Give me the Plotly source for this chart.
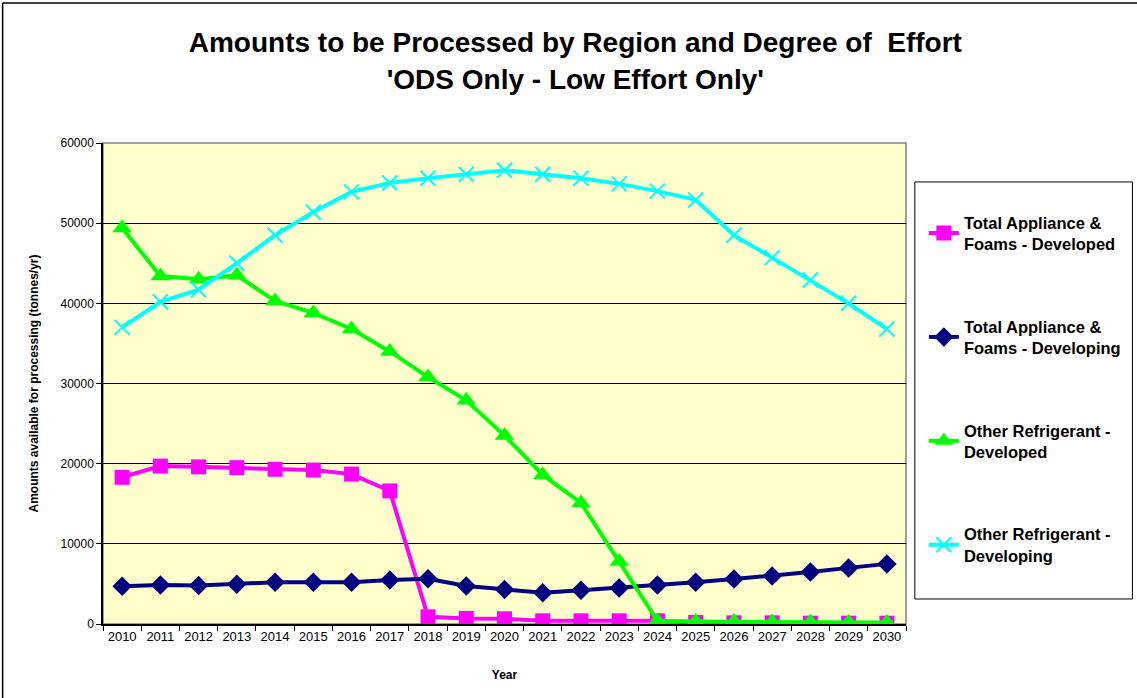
import plotly.graph_objects as go

# Years on the category axis
years = [str(y) for y in range(2010, 2031)]

# tonnes/yr
appl_developed = [18300, 19700, 19600, 19500, 19300, 19200, 18700, 16600, 900, 700, 650,
                  400, 400, 400, 400, 200, 150, 150, 100, 100, 100]
appl_developing = [4700, 4850, 4800, 4950, 5200, 5200, 5200, 5500, 5650, 4750, 4300,
                   3900, 4200, 4500, 4850, 5200, 5600, 6000, 6500, 7000, 7500]
refr_developed = [49400, 43400, 43000, 43500, 40300, 38800, 36800, 34000, 30800, 27900, 23500,
                  18600, 15100, 7800, 400, 300, 300, 250, 250, 200, 200]
refr_developing = [37000, 40200, 41700, 45000, 48500, 51400, 53900, 55000, 55600, 56100, 56600,
                   56100, 55600, 54900, 54000, 52900, 48500, 45700, 42900, 40000, 36800]

names = ["<b>Total Appliance &<br>Foams - Developed</b>",
         "<b>Total Appliance &<br>Foams - Developing</b>",
         "<b>Other Refrigerant -<br>Developed</b>",
         "<b>Other Refrigerant -<br>Developing</b>"]

fig = go.Figure()
fig.add_trace(go.Scatter(x=years, y=appl_developed, name=names[0], mode="lines+markers",
                         line=dict(color="#FF00FF", width=4),
                         marker=dict(symbol="square", size=15, color="#FF00FF"),
                         legendgroup="a"))
fig.add_trace(go.Scatter(x=years, y=appl_developing, name=names[1], mode="lines+markers",
                         line=dict(color="#000080", width=4),
                         marker=dict(symbol="diamond", size=15, color="#000080"),
                         legendgroup="b"))
fig.add_trace(go.Scatter(x=years, y=refr_developed, name=names[2], mode="lines+markers",
                         line=dict(color="#00FF00", width=4),
                         marker=dict(symbol="triangle-up", size=17, color="#00FF00"),
                         legendgroup="c"))
fig.add_trace(go.Scatter(x=years, y=refr_developing, name=names[3], mode="lines+markers",
                         line=dict(color="#00FFFF", width=4),
                         marker=dict(symbol="x-thin", size=15, color="#00FFFF",
                                     line=dict(color="#00FFFF", width=2)),
                         legendgroup="d"))

# plot border (grey top/right) and outer chart frame
fig.add_shape(type="rect", xref="paper", yref="paper", x0=0, x1=1, y0=0, y1=1,
              line=dict(color="#808080", width=1.5), layer="below")
fig.add_shape(type="line", xref="paper", yref="paper", x0=-0.125, x1=1.3, y0=1.291, y1=1.291,
              line=dict(color="black", width=1.5))
fig.add_shape(type="line", xref="paper", yref="paper", x0=-0.125, x1=-0.125, y0=-0.2, y1=1.291,
              line=dict(color="black", width=1.5))
# legend box
fig.add_shape(type="rect", xref="paper", yref="paper", x0=1.011, x1=1.282, y0=0.052, y1=0.919,
              line=dict(color="black", width=1))

fig.update_layout(
    width=1137, height=698,
    margin=dict(l=103, r=230, t=143, b=74),
    paper_bgcolor="white",
    plot_bgcolor="#FFFFCC",
    font=dict(family="Liberation Sans, Arial", color="black", size=12),
    title=dict(text="<b>Amounts to be Processed by Region and Degree of  Effort<br>'ODS Only - Low Effort Only'</b>",
               x=0.506, xanchor="center", y=0.925, yanchor="top",
               font=dict(size=28, family="Liberation Sans, Arial", color="black"),
               automargin=False),
    legend=dict(x=1.021, xanchor="left", y=0.871, yanchor="top",
                bgcolor="rgba(0,0,0,0)", borderwidth=0,
                font=dict(size=16.5, family="Liberation Sans, Arial", color="black"),
                tracegroupgap=58, traceorder="grouped", itemwidth=30),
    showlegend=True,
)

fig.update_xaxes(
    type="category", range=[-0.5, len(years) - 0.5],
    title=dict(text="<b>Year</b>", font=dict(size=12), standoff=27),
    showline=True, linecolor="black", linewidth=1.5,
    ticks="outside", tickson="boundaries", ticklen=5, tickcolor="black",
    showgrid=False, tickfont=dict(size=13), tickangle=0, automargin=False,
)
fig.update_yaxes(
    range=[0, 60000], dtick=10000, tickformat="d",
    title=dict(text="<b>Amounts available for processing (tonnes/yr)</b>", font=dict(size=12), standoff=19),
    showline=True, linecolor="black", linewidth=1.5,
    ticks="outside", ticklen=5, tickcolor="black",
    showgrid=True, gridcolor="black", gridwidth=1,
    zeroline=False, tickfont=dict(size=12), automargin=False,
)

# drop the default page margin so the figure sits at the window's corner
fig.write_html("out.html", config={"displayModeBar": False},
               post_script="document.body.style.margin='0';")
